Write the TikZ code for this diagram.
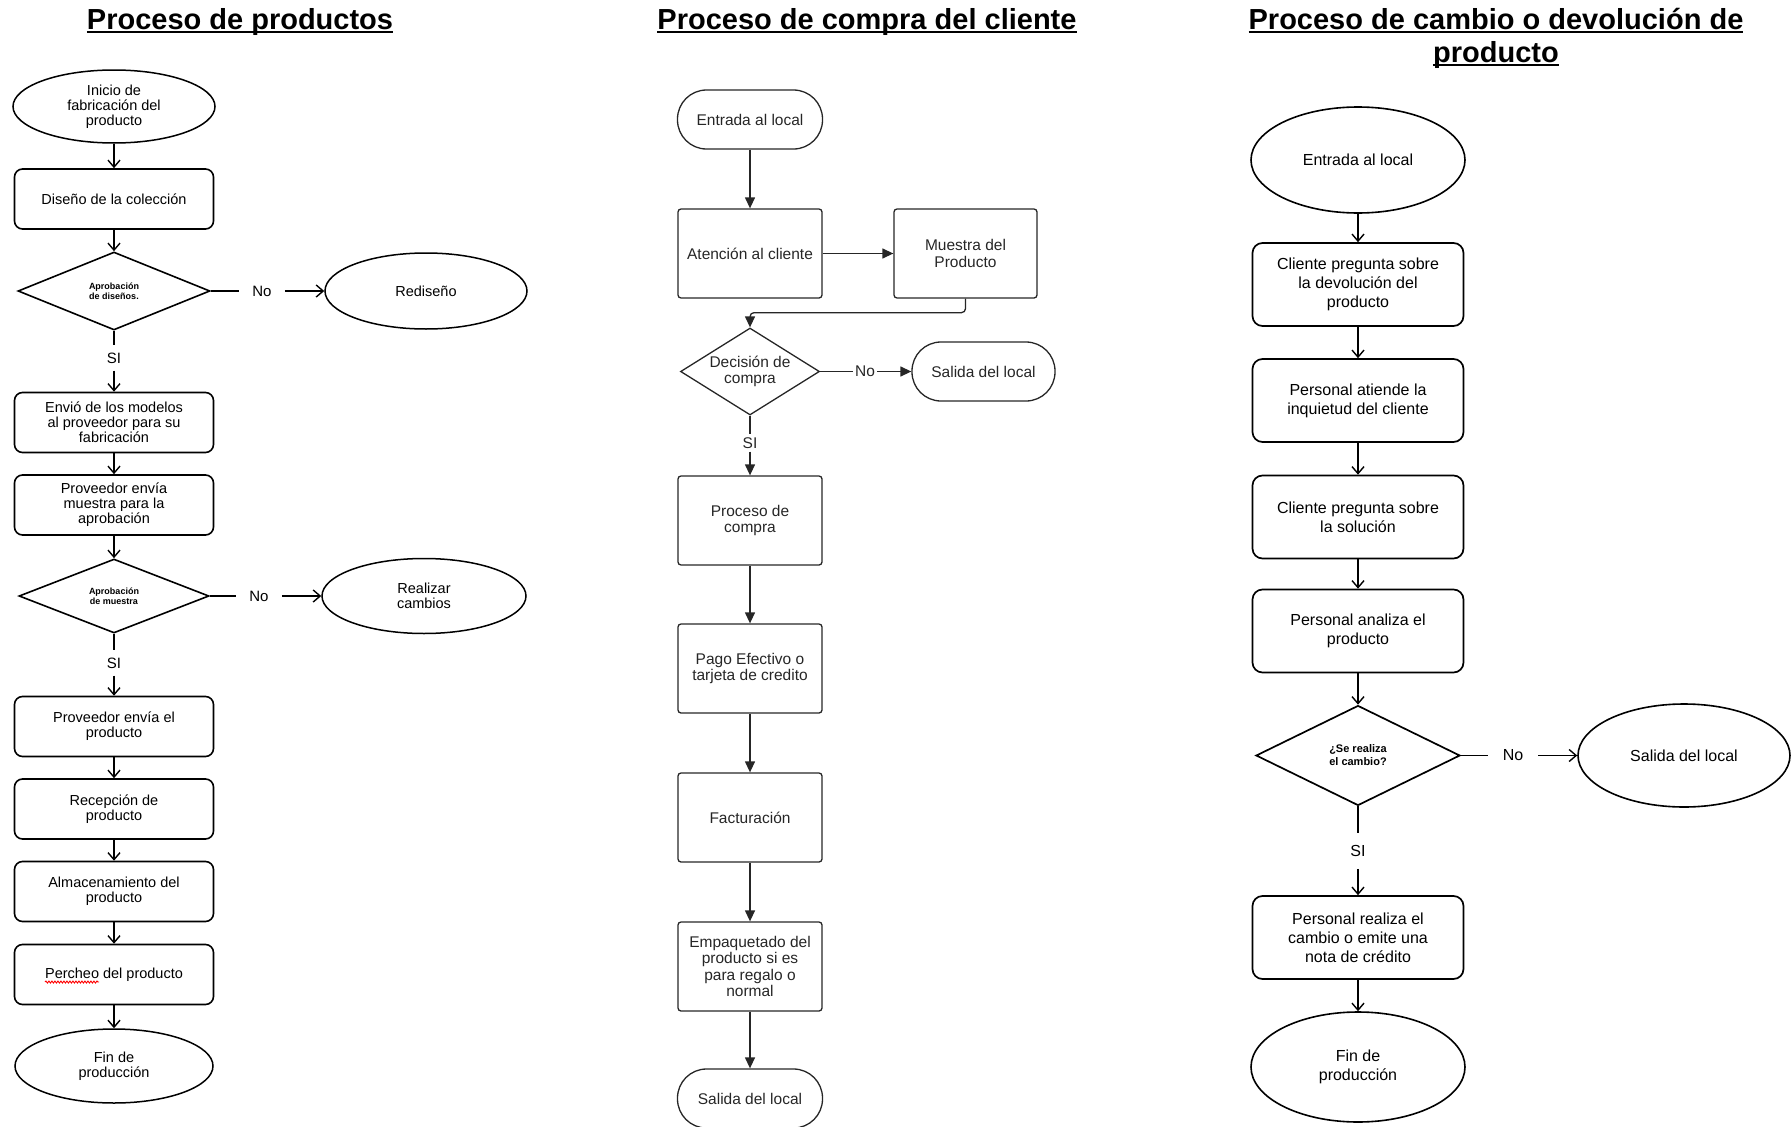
\documentclass[tikz,border=0pt]{standalone}
\usepackage{fontspec}
\setmainfont{Liberation Sans}
\usetikzlibrary{shapes.geometric,arrows.meta,calc,decorations.pathmorphing}
\newcommand\myul[1]{\setbox0\hbox{#1}\rlap{\rule[-4.2pt]{\wd0}{2.4pt}}\box0}
\definecolor{txtgray}{HTML}{262626}
\begin{document}
\begin{tikzpicture}[x=1pt,y=-1pt,
  title/.style={font=\fontsize{29}{33}\selectfont\bfseries, inner sep=0pt},
  box1/.style={draw=black, line width=1.6pt, rounded corners=8pt, minimum width=199pt, minimum height=60pt, align=center, inner sep=1pt, font=\fontsize{14.5}{15}\selectfont},
  ell1/.style={draw=black, ellipse, line width=1.5pt, align=center, inner sep=0pt, font=\fontsize{14.5}{15}\selectfont},
  dia1/.style={draw=black, diamond, line width=1.6pt, align=center, inner sep=0pt, font=\fontsize{9}{10}\selectfont\bfseries},
  lab1/.style={font=\fontsize{15}{15}\selectfont, inner xsep=13pt, inner ysep=7pt},
  line1/.style={line width=1.5pt, draw=black},
  arr1/.style={line1, -{Straight Barb[length=7pt,width=12pt,line width=1.4pt]}},
  box2/.style={draw=txtgray, line width=1.3pt, rounded corners=3pt, minimum width=144pt, minimum height=89pt, align=center, inner sep=1pt, text=txtgray, font=\fontsize{15.5}{16.5}\selectfont},
  term2/.style={box2, rounded corners=29pt, minimum width=145pt, minimum height=59pt},
  dia2/.style={draw=txtgray, diamond, aspect=1.6, line width=1.3pt, minimum width=139pt, minimum height=87pt, align=center, inner sep=-5pt, text=txtgray, font=\fontsize{15.5}{16.5}\selectfont},
  lab2/.style={text=txtgray, font=\fontsize{15.5}{15.5}\selectfont, inner xsep=2pt, inner ysep=3pt},
  line2/.style={line width=1.3pt, draw=txtgray},
  arr2/.style={line2, -{Triangle[length=11pt,width=10pt]}},
  box3/.style={draw=black, line width=1.7pt, rounded corners=10pt, minimum width=211pt, minimum height=83pt, align=center, inner sep=1pt, font=\fontsize{16}{19}\selectfont},
  ell3/.style={draw=black, ellipse, line width=1.6pt, align=center, inner sep=0pt, font=\fontsize{16}{19}\selectfont},
  dia3/.style={draw=black, diamond, line width=1.7pt, minimum width=204pt, minimum height=100pt, align=center, inner sep=0pt, font=\fontsize{11}{13}\selectfont\bfseries},
  lab3/.style={font=\fontsize{16}{16}\selectfont, inner xsep=15pt, inner ysep=12pt},
]
\useasboundingbox (0,0) rectangle (1792,1127);

% ---------- titles ----------
\node[title, anchor=base] (t1) at (240,29) {\myul{Proceso de productos}};
\node[title, anchor=base] (t2) at (867,29) {\myul{Proceso de compra del cliente}};
\node[title, anchor=base] (t3) at (1496,29) {\myul{Proceso de cambio o devolución de}};
\node[title, anchor=base] (t3b) at (1496,62) {\myul{producto}};

% ---------- column 1 ----------
\node[ell1, minimum width=202pt, minimum height=73pt] (a1) at (114,106.5) {Inicio de\\fabricación del\\producto};
\node[box1] (a2) at (114,199) {Diseño de la colección};
\node[dia1, minimum width=192pt, minimum height=78pt] (a3) at (114,291) {Aprobación\\de diseños.};
\node[lab1] (a3no) at (262,291) {No};
\node[ell1, minimum width=202pt, minimum height=76pt] (a3r) at (426,291) {Rediseño};
\node[lab1] (a3si) at (114,358) {SI};
\node[box1] (a4) at (114,422.5) {Envió de los modelos\\al proveedor para su\\fabricación};
\node[box1] (a5) at (114,505) {Proveedor envía\\muestra para la\\aprobación};
\node[dia1, minimum width=190pt, minimum height=74pt] (a6) at (114,596) {Aprobación\\de muestra};
\node[lab1] (a6no) at (259,596) {No};
\node[ell1, minimum width=204pt, minimum height=75pt] (a6r) at (424,596) {Realizar\\cambios};
\node[lab1] (a6si) at (114,663) {SI};
\node[box1] (a7) at (114,726.5) {Proveedor envía el\\producto};
\node[box1] (a8) at (114,809) {Recepción de\\producto};
\node[box1] (a9) at (114,891.5) {Almacenamiento del\\producto};
\node[box1] (a10) at (114,974.5) {Percheo del producto};
\node[ell1, minimum width=198pt, minimum height=74pt] (a11) at (114,1066) {Fin de\\producción};

\draw[arr1] (a1) -- (a2);
\draw[arr1] (a2) -- (a3);
\draw[line1] (a3) -- (a3no);
\draw[arr1] (a3no) -- (a3r);
\draw[line1] (a3) -- (a3si);
\draw[arr1] (a3si) -- (a4);
\draw[arr1] (a4) -- (a5);
\draw[arr1] (a5) -- (a6);
\draw[line1] (a6) -- (a6no);
\draw[arr1] (a6no) -- (a6r);
\draw[line1] (a6) -- (a6si);
\draw[arr1] (a6si) -- (a7);
\draw[arr1] (a7) -- (a8);
\draw[arr1] (a8) -- (a9);
\draw[arr1] (a9) -- (a10);
\draw[arr1] (a10) -- (a11);
\draw[red, line width=0.9pt, decorate, decoration={snake, amplitude=1pt, segment length=3pt}]
  ($(a10.center)+(-69,7.5)$) -- ($(a10.center)+(-15,7.5)$);

% ---------- column 2 ----------
\node[term2] (b1) at (750,119.5) {Entrada al local};
\node[box2] (b2) at (750,253.5) {Atención al cliente};
\node[box2, minimum width=143pt] (b3) at (965.5,253.5) {Muestra del\\Producto};
\node[dia2] (b4) at (750,371.5) {Decisión de\\compra};
\node[lab2] (b4no) at (865,371.5) {No};
\node[term2, minimum width=143pt] (b4s) at (983.5,371.5) {Salida del local};
\node[lab2] (b4si) at (750,443) {SI};
\node[box2] (b5) at (750,520.5) {Proceso de\\compra};
\node[box2] (b6) at (750,668.5) {Pago Efectivo o\\tarjeta de credito};
\node[box2] (b7) at (750,817.5) {Facturación};
\node[box2] (b8) at (750,966.5) {Empaquetado del\\producto si es\\para regalo o\\normal};
\node[term2] (b9) at (750,1098.5) {Salida del local};

\draw[arr2] (b1) -- (b2);
\draw[arr2] (b2) -- (b3);
\draw[arr2, rounded corners=4pt] (b3.south) -- ++(0,14) -| (b4.north);
\draw[line2] (b4) -- (b4no);
\draw[arr2] (b4no) -- (b4s);
\draw[line2] (b4) -- (b4si);
\draw[arr2] (b4si) -- (b5);
\draw[arr2] (b5) -- (b6);
\draw[arr2] (b6) -- (b7);
\draw[arr2] (b7) -- (b8);
\draw[arr2] (b8) -- (b9);

% ---------- column 3 ----------
\node[ell3, minimum width=214pt, minimum height=106pt] (c1) at (1358,160) {Entrada al local};
\node[box3] (c2) at (1358,284.5) {Cliente pregunta sobre\\la devolución del\\producto};
\node[box3] (c3) at (1358,400.5) {Personal atiende la\\inquietud del cliente};
\node[box3] (c4) at (1358,517) {Cliente pregunta sobre\\la solución};
\node[box3] (c5) at (1358,631) {Personal analiza el\\producto};
\node[dia3] (c6) at (1358,755.5) {¿Se realiza\\el cambio?};
\node[lab3] (c6no) at (1513,755.5) {No};
\node[ell3, minimum width=212pt, minimum height=103pt] (c6s) at (1684,755.5) {Salida del local};
\node[lab3] (c6si) at (1358,851) {SI};
\node[box3] (c7) at (1358,937.5) {Personal realiza el\\cambio o emite una\\nota de crédito};
\node[ell3, minimum width=214pt, minimum height=110pt] (c8) at (1358,1067) {Fin de\\producción};

\draw[arr1] (c1) -- (c2);
\draw[arr1] (c2) -- (c3);
\draw[arr1] (c3) -- (c4);
\draw[arr1] (c4) -- (c5);
\draw[arr1] (c5) -- (c6);
\draw[line1] (c6) -- (c6no);
\draw[arr1] (c6no) -- (c6s);
\draw[line1] (c6) -- (c6si);
\draw[arr1] (c6si) -- (c7);
\draw[arr1] (c7) -- (c8);
\end{tikzpicture}
\end{document}
